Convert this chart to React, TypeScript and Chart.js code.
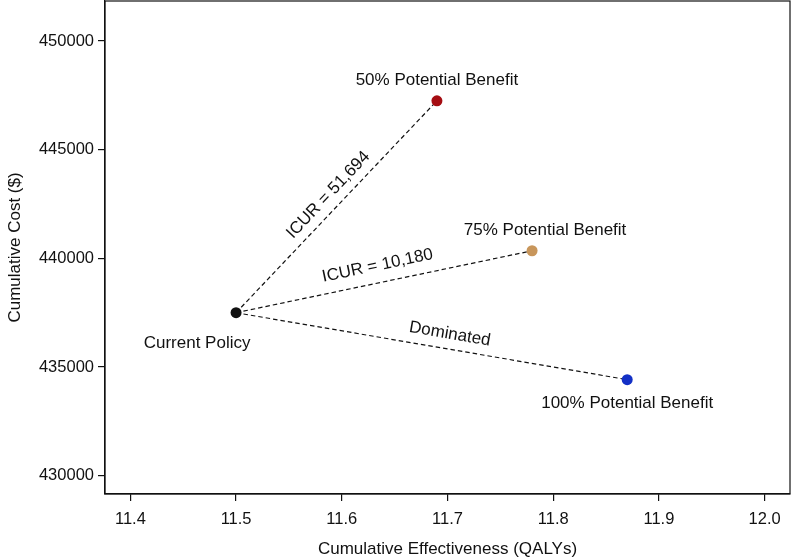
import React, { useEffect, useRef } from 'react';
import { Chart, registerables } from 'chart.js';

Chart.register(...registerables);

// ---- data ----
const strategies = ['Current Policy', '50% Potential Benefit', '75% Potential Benefit', '100% Potential Benefit'];
const effectiveness = [11.5, 11.69, 11.78, 11.87];
const costs = [437500, 447250, 440350, 434420];
const segmentLabels = ['', 'ICUR = 51,694', 'ICUR = 10,180', 'Dominated'];
const xTicks = [11.4, 11.5, 11.6, 11.7, 11.8, 11.9, 12.0];
const yTicks = [430000, 435000, 440000, 445000, 450000];
const xLimits = [11.376, 12.024];
const yLimits = [429160, 451840];

// ---- styles ----
const pointColors = ['#111111', '#A50D12', '#C8965B', '#1330C6'];
const FONT = '"Liberation Sans", Arial, Helvetica, sans-serif';
const labelOffsets: [number, number][] = [[-39, 31], [0, -20], [13, -20], [0, 24]];
const segmentStyle = [null, { t: 0.51, off: 14 }, { t: 0.49, off: 17 }, { t: 0.54, off: 15 }];

const annotate = {
  id: 'annotate',
  afterDatasetsDraw(chart: any) {
    const ctx = chart.ctx;
    const xs = chart.scales.x;
    const ys = chart.scales.y;
    const px = effectiveness.map((v) => xs.getPixelForValue(v));
    const py = costs.map((v) => ys.getPixelForValue(v));
    ctx.save();
    ctx.font = `17px ${FONT}`;
    ctx.fillStyle = '#111';
    ctx.textAlign = 'center';
    ctx.textBaseline = 'middle';
    strategies.forEach((s, i) => {
      ctx.fillText(s, px[i] + labelOffsets[i][0], py[i] + labelOffsets[i][1]);
    });
    for (let i = 1; i < strategies.length; i++) {
      const st = segmentStyle[i]!;
      const dx = px[i] - px[0];
      const dy = py[i] - py[0];
      const len = Math.hypot(dx, dy);
      const nx = dy / len;
      const ny = -dx / len;
      const mx = px[0] + dx * st.t + nx * st.off;
      const my = py[0] + dy * st.t + ny * st.off;
      ctx.save();
      ctx.translate(mx, my);
      ctx.rotate(Math.atan2(dy, dx));
      ctx.fillText(segmentLabels[i], 0, 0);
      ctx.restore();
    }
    ctx.restore();
  },
};

const frame = {
  id: 'frame',
  afterDraw(chart: any) {
    const { left, right, top, bottom } = chart.chartArea;
    const ctx = chart.ctx;
    ctx.save();
    ctx.strokeStyle = '#111';
    ctx.lineWidth = 1.2;
    ctx.strokeRect(left, top, right - left, bottom - top);
    ctx.restore();
  },
};

const zeroPad = (s: any) => {
  s.paddingTop = 0;
  s.paddingBottom = 0;
  s.paddingLeft = 0;
  s.paddingRight = 0;
};

export default function App() {
  const ref = useRef<HTMLCanvasElement | null>(null);

  useEffect(() => {
    if (!ref.current) return;
    const segDatasets = [1, 2, 3].map((i) => ({
      type: 'scatter' as const,
      data: [
        { x: effectiveness[0], y: costs[0] },
        { x: effectiveness[i], y: costs[i] },
      ],
      showLine: true,
      borderColor: '#111',
      borderWidth: 1.2,
      borderDash: [4.5, 3],
      pointRadius: 0,
      order: 2,
    }));
    const chart = new Chart(ref.current, {
      type: 'scatter',
      data: {
        datasets: [
          {
            data: effectiveness.map((x, i) => ({ x, y: costs[i] })),
            pointRadius: 5.5,
            pointHoverRadius: 5.5,
            pointBackgroundColor: pointColors,
            pointBorderWidth: 0,
            pointBorderColor: pointColors,
            order: 1,
          } as any,
          ...segDatasets,
        ],
      },
      options: {
        animation: false,
        responsive: false,
        layout: { autoPadding: false, padding: { top: 1, right: 4, left: 0, bottom: 0 } },
        plugins: { legend: { display: false }, tooltip: { enabled: false } },
        scales: {
          x: {
            type: 'linear',
            min: xLimits[0],
            max: xLimits[1],
            afterBuildTicks: (s: any) => {
              s.ticks = xTicks.map((value) => ({ value }));
            },
            afterFit: (s: any) => {
              s.height = 66;
              zeroPad(s);
            },
            ticks: {
              callback: (v: any) => Number(v).toFixed(1),
              color: '#111',
              font: { family: FONT, size: 16.5 },
              padding: 9,
              maxRotation: 0,
              autoSkip: false,
            },
            grid: { display: true, drawOnChartArea: false, drawTicks: true, tickLength: 7, color: '#111', lineWidth: 1.2 },
            border: { display: true, color: '#111', width: 1.2 },
            title: {
              display: true,
              text: 'Cumulative Effectiveness (QALYs)',
              color: '#111',
              font: { family: FONT, size: 17 },
              padding: { top: 0, bottom: 0 },
            },
          },
          y: {
            type: 'linear',
            min: yLimits[0],
            max: yLimits[1],
            afterBuildTicks: (s: any) => {
              s.ticks = yTicks.map((value) => ({ value }));
            },
            afterFit: (s: any) => {
              s.width = 105;
              zeroPad(s);
            },
            ticks: {
              callback: (v: any) => String(v),
              color: '#111',
              font: { family: FONT, size: 16.5 },
              padding: 4,
              autoSkip: false,
            },
            grid: { display: true, drawOnChartArea: false, drawTicks: true, tickLength: 7, color: '#111', lineWidth: 1.2 },
            border: { display: true, color: '#111', width: 1.2 },
            title: {
              display: true,
              text: 'Cumulative Cost ($)',
              color: '#111',
              font: { family: FONT, size: 17 },
              padding: { top: 5, bottom: 5 },
            },
          },
        },
      },
      plugins: [annotate, frame],
    });
    return () => chart.destroy();
  }, []);

  return (
    <div style={{ position: 'absolute', left: 0, top: 0, width: 794, height: 560, background: '#fff' }}>
      <canvas ref={ref} width={794} height={560} style={{ width: 794, height: 560 }} />
    </div>
  );
}
